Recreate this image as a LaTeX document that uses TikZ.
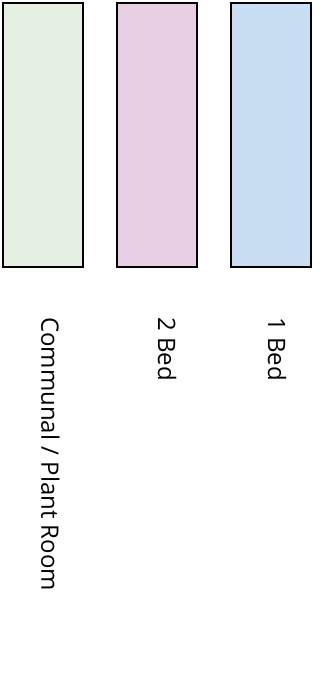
\documentclass[tikz,border=0pt]{standalone}
\usepackage{fontspec}
\setmainfont{Open Sans}
\definecolor{commgreen}{RGB}{229,239,226}
\definecolor{twopink}{RGB}{232,207,228}
\definecolor{oneblue}{RGB}{201,222,242}
\begin{document}
\begin{tikzpicture}[x=1pt,y=-1pt,
  roombox/.style={draw=black,line width=2.8pt,minimum width=80pt,minimum height=264pt,inner sep=0pt},
  roomlabel/.style={rotate=-90,anchor=base west,inner sep=0pt,font=\fontsize{24}{28}\selectfont}]
\useasboundingbox (0,0) rectangle (324,699);
\node[roombox,fill=commgreen] (comm) at (43,135) {};
\node[roombox,fill=twopink] (twobed) at (157,135) {};
\node[roombox,fill=oneblue] (onebed) at (271,135) {};
\node[roomlabel] (commlbl) at (41.5,317) {Communal / Plant Room};
\node[roomlabel] (twolbl) at (158,317) {2 Bed};
\node[roomlabel] (onelbl) at (268,317) {1 Bed};
\end{tikzpicture}
\end{document}
